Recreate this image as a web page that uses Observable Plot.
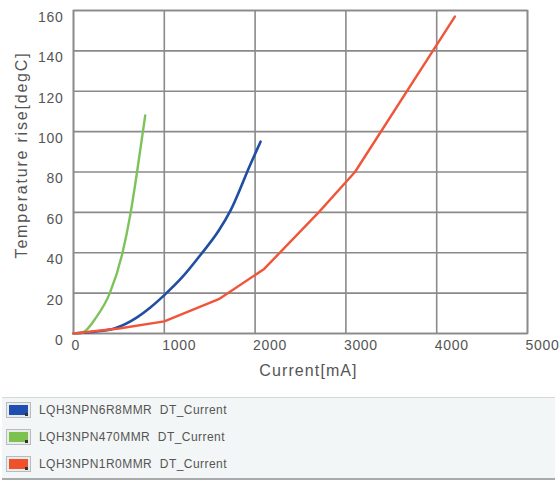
<!DOCTYPE html>
<html>
<head>
<meta charset="utf-8">
<script src="https://cdn.jsdelivr.net/npm/d3@7"></script>
<script src="https://cdn.jsdelivr.net/npm/@observablehq/plot@0.6"></script>
<style>
  html, body { margin: 0; padding: 0; background: #fff; }
  #wrap { position: relative; width: 559px; height: 481px; font-family: "Liberation Sans", Arial, sans-serif; }
  #legend { position: absolute; left: 2px; top: 397px; width: 553px; height: 80px; background: #f3f6f6;
            border-top: 1px solid #d4d8d8; border-bottom: 2px solid #a8abab; }
  .row { position: absolute; left: 0; height: 18px; display: flex; align-items: center; }
  .sw { position: relative; width: 25px; height: 16px; box-sizing: border-box; border: 1px solid #b8bcbc; background: #e8ecec; margin-left: 4px; }
  .sw .c { position: absolute; left: 2px; top: 2px; width: 19px; height: 10px; }
  .sw .d { position: absolute; right: 2px; bottom: 1px; width: 3px; height: 3px; background: #333; }
  .lab { margin-left: 8px; font-size: 12px; color: #555; white-space: pre; letter-spacing: 0.45px; }
  #chart svg g[aria-label="x-axis tick label"] text,
  #chart svg g[aria-label="y-axis tick label"] text { letter-spacing: 0.7px; }
  #chart svg .xlab text { letter-spacing: 1.1px; }
  #chart svg .ylab text { letter-spacing: 1.8px; }
</style>
</head>
<body>
<div id="wrap">
  <div id="chart"></div>
  <div id="legend"></div>
</div>
<script>
const seriesNames = ["LQH3NPN6R8MMR  DT_Current", "LQH3NPN470MMR  DT_Current", "LQH3NPN1R0MMR  DT_Current"];
const seriesColors = ["#1f4ea3", "#7cc35a", "#f0553a"];
const legendColors = ["#1e4fb0", "#7dc24e", "#f0502a"];

const blueCurrent = [0, 250, 450, 700, 850, 1000, 1200, 1400, 1600, 1730, 1950, 2060];
const blueTemp    = [0, 1, 2.5, 8, 13, 19, 28, 39, 51, 61, 84, 95];

const greenCurrent = [0, 100, 250, 400, 540, 630, 700, 790];
const greenTemp    = [0, 0.5, 8, 20, 40, 60, 80, 108];

const redCurrent = [0, 500, 1000, 1600, 2100, 2700, 3100, 4200];
const redTemp    = [0, 2.5, 6, 17, 32, 60, 80, 157];

const xTicks = [0, 1000, 2000, 3000, 4000, 5000];
const yTicks = [0, 20, 40, 60, 80, 100, 120, 140, 160];
const xLabel = "Current[mA]";
const yLabel = "Temperature rise[degC]";

const toRows = (xs, ys, s) => xs.map((x, i) => ({current: x, temp: ys[i], series: s}));
const blue = toRows(blueCurrent, blueTemp, seriesNames[0]);
const green = toRows(greenCurrent, greenTemp, seriesNames[1]);
const red = toRows(redCurrent, redTemp, seriesNames[2]);

const gridStyle = {stroke: "#8a8a8a", strokeOpacity: 1, strokeWidth: 1.6};

const chart = Plot.plot({
  width: 559,
  height: 392,
  marginLeft: 73,
  marginRight: 32,
  marginTop: 10,
  marginBottom: 59,
  style: {fontFamily: "'Liberation Sans', Arial, sans-serif", color: "#555", background: "white", overflow: "visible"},
  x: {domain: [0, 5000]},
  y: {domain: [0, 160]},
  marks: [
    Plot.gridX(xTicks, gridStyle),
    Plot.gridY(yTicks, gridStyle),
    Plot.frame({stroke: "#8a8a8a", strokeWidth: 1.6}),
    Plot.axisX(xTicks, {tickSize: 0, tickPadding: 7, textAnchor: "start", dx: -2, fontSize: 14, fill: "#555", label: null, tickFormat: d => String(d)}),
    Plot.axisY(yTicks, {tickSize: 0, tickPadding: 10, dy: 7, fontSize: 14, fill: "#555", label: null}),
    Plot.line(blue, {x: "current", y: "temp", stroke: seriesColors[0], strokeWidth: 2.6, curve: "monotone-x"}),
    Plot.line(green, {x: "current", y: "temp", stroke: seriesColors[1], strokeWidth: 2.4, curve: "monotone-x"}),
    Plot.line(red, {x: "current", y: "temp", stroke: seriesColors[2], strokeWidth: 2.4, curve: "linear"}),
    Plot.text([xLabel], {text: d => d, frameAnchor: "bottom", textAnchor: "middle", dx: 8, dy: 42, fontSize: 16, fill: "#555", className: "xlab"}),
    Plot.text([yLabel], {text: d => d, frameAnchor: "left", textAnchor: "middle", rotate: -90, dx: -52, dy: -17, fontSize: 16, fill: "#555", className: "ylab"})
  ]
});
document.getElementById("chart").appendChild(chart);

const legend = document.getElementById("legend");
const rowTops = [3, 30, 57];
seriesNames.forEach((name, i) => {
  const row = document.createElement("div");
  row.className = "row";
  row.style.top = rowTops[i] + "px";
  row.innerHTML = `<div class="sw"><div class="c" style="background:${legendColors[i]}"></div><div class="d"></div></div><span class="lab">${name}</span>`;
  legend.appendChild(row);
});
</script>
</body>
</html>
